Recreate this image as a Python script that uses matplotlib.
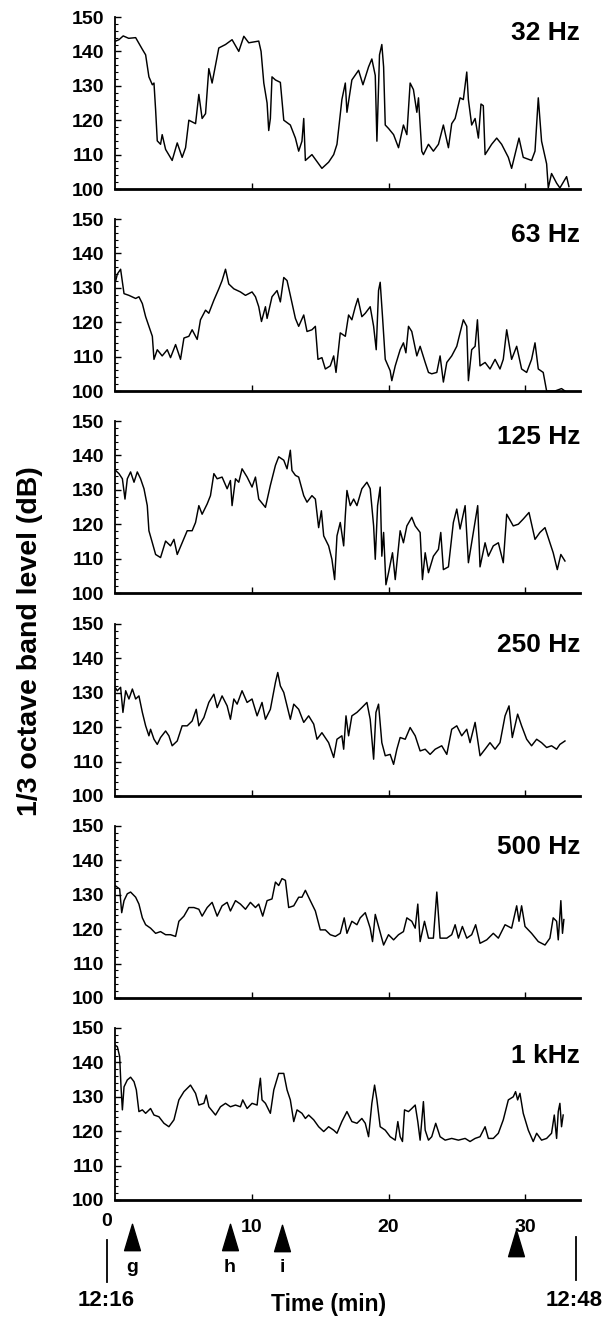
import matplotlib
matplotlib.use("Agg")
import matplotlib.pyplot as plt
import matplotlib.transforms as mtransforms
from matplotlib.path import Path
from matplotlib.ticker import MultipleLocator

plt.rcParams['font.family'] = ['Liberation Sans', 'DejaVu Sans']
plt.rcParams['font.weight'] = 'bold'

# --- data (time in min, level in dB) ---
bands = ['32 Hz', '63 Hz', '125 Hz', '250 Hz', '500 Hz', '1 kHz']

t_32 = [0.05, 0.29, 0.6, 1.0, 1.51, 2.00, 2.24, 2.48, 2.73, 2.85, 2.97, 3.09, 3.33, 3.45, 3.70,
        4.18, 4.55, 4.91, 5.16, 5.40, 5.89, 6.13, 6.37, 6.62, 6.86, 7.10, 7.59, 8.08, 8.56, 9.05,
        9.42, 9.78, 10.51, 10.68, 10.88, 11.12, 11.24, 11.36, 11.48, 11.73, 12.09, 12.34, 12.82,
        13.19, 13.43, 13.67, 13.80, 13.92, 14.40, 15.13, 15.62, 15.99, 16.23, 16.59, 16.84, 16.96,
        17.32, 17.81, 18.13, 18.54, 18.78, 19.03, 19.15, 19.34, 19.51, 19.64, 19.76, 20.00, 20.37,
        20.73, 21.09, 21.34, 21.58, 21.82, 22.07, 22.19, 22.43, 22.55, 22.92, 23.28, 23.65, 24.01,
        24.38, 24.62, 24.87, 25.23, 25.47, 25.72, 25.84, 26.08, 26.33, 26.57, 26.76, 26.93, 27.06,
        27.54, 27.91, 28.27, 28.76, 29.00, 29.54, 29.85, 30.46, 30.71, 30.95, 31.19, 31.56, 31.68,
        31.92, 32.29, 32.53, 33.02, 33.19]
v_32 = [143, 143.4, 144.5, 143.8, 144, 140.6, 139, 132.6, 130.3, 130.8, 123, 114, 113, 115.8, 111.5,
        108.3, 113.4, 109.2, 112, 120, 119, 127.5, 120.5, 121.9, 135, 130.8, 141, 142, 143.4, 140,
        144.4, 142.5, 143, 140, 130.8, 125, 117, 120.5, 132.6, 131.7, 131, 120, 118.6,
        114.8, 111, 113.9, 120.5, 108.3, 110, 106, 107.8, 110, 113, 126, 130.8, 122.3,
        131.7, 134.5, 130.3, 135.5, 137.8, 133, 113.9, 139, 142, 135.5, 118.6, 117.6, 115.8,
        112, 118.6, 115.8, 130.8, 128.9, 122.3, 126.5, 111, 110, 113, 111, 113, 118.6,
        112, 119, 120.5, 126.5, 126, 134, 126, 118.6, 120.5, 114.8, 124.7, 124.2, 110,
        113, 114.8, 113, 109.2, 106, 114.8, 109.2, 108.3, 111, 126.5, 113.9, 107.3, 100.3,
        104.5, 101.7, 100.3, 103.6, 100.7]

t_63 = [0.05, 0.17, 0.41, 0.66, 1.02, 1.51, 1.75, 2.00, 2.24, 2.48, 2.73, 2.85, 3.09, 3.45, 3.82, 4.06,
        4.43, 4.79, 5.04, 5.40, 5.64, 6.01, 6.25, 6.62, 6.86, 7.23, 7.59, 7.83, 8.08, 8.32, 8.69,
        9.17, 9.54, 10.02, 10.27, 10.51, 10.71, 11.00, 11.12, 11.48, 11.85, 12.09, 12.34, 12.58,
        12.82, 13.19, 13.43, 13.80, 14.04, 14.40, 14.65, 14.84, 15.13, 15.38, 15.74, 15.99, 16.16,
        16.47, 16.84, 17.08, 17.32, 17.57, 17.76, 18.05, 18.30, 18.66, 18.91, 19.10, 19.27, 19.39,
        19.56, 19.76, 20.12, 20.24, 20.49, 20.85, 21.09, 21.27, 21.46, 21.70, 22.07, 22.31, 22.68,
        22.92, 23.16, 23.53, 23.77, 24.01, 24.26, 24.62, 24.99, 25.23, 25.47, 25.72, 25.84, 26.08,
        26.33, 26.50, 26.69, 27.06, 27.42, 27.79, 28.15, 28.39, 28.64, 29.00, 29.37, 29.73, 30.10,
        30.46, 30.71, 30.95, 31.31, 31.56, 32.17, 32.65, 32.90]
v_63 = [132, 134, 135.4, 128.3, 127.8, 126.9, 127.4, 125.4, 121.6, 118.8, 115.9, 109.2, 112, 110.2, 112,
        109.7, 113.5, 109.2, 115.4, 115.9, 117.8, 115, 120.7, 123.5, 122.6, 126.4, 129.7, 132.1,
        135.4, 131.1, 129.7, 128.8, 127.8, 128.8, 127.4, 124.5, 120.2, 124.5, 121.1, 127.4, 129.2,
        125.9, 133, 132.1, 127.8, 121.1, 118.8, 122.1, 117.3, 117.8, 118.8, 109.2, 109.7, 106.4,
        107.3, 110.2, 105.4, 116.9, 115.9, 122.1, 120.7, 124.5, 126.9, 121.6, 122.6, 124.5, 118.8,
        112, 129.2, 131.6, 121.6, 109.2, 105.9, 103, 107.3, 112, 114, 111.1, 118.8, 117.3, 110.2,
        113, 108.3, 105.4, 105, 105.4, 110.2, 102.6, 108.3, 110.2, 113, 116.9, 120.7, 118.8, 103,
        112, 113, 120.7, 107.3, 108.3, 106.4, 109.2, 106.4, 109.2, 117.8, 109.2, 113, 106.4, 105.4,
        109.2, 114, 106.4, 105.4, 100, 100, 100.7, 100]

t_125 = [0.05, 0.29, 0.54, 0.73, 0.90, 1.14, 1.39, 1.63, 1.87, 2.12, 2.36, 2.48, 2.73, 2.97, 3.33,
         3.70, 4.06, 4.31, 4.55, 4.91, 5.28, 5.64, 5.89, 6.13, 6.37, 6.74, 6.98, 7.23, 7.47, 7.83,
         8.20, 8.44, 8.56, 8.81, 9.05, 9.29, 9.66, 10.02, 10.27, 10.51, 11.00, 11.36, 11.73, 11.97,
         12.34, 12.58, 12.82, 12.94, 13.19, 13.43, 13.80, 14.04, 14.40, 14.65, 14.89, 15.09, 15.26,
         15.62, 15.86, 16.06, 16.23, 16.47, 16.72, 16.84, 16.96, 17.20, 17.45, 17.69, 18.05, 18.42,
         18.66, 18.91, 19.03, 19.20, 19.39, 19.51, 19.64, 19.81, 20.00, 20.29, 20.49, 20.85, 21.09,
         21.34, 21.70, 21.95, 22.31, 22.48, 22.68, 22.92, 23.28, 23.65, 23.82, 24.01, 24.38, 24.74,
         24.99, 25.23, 25.60, 25.84, 26.20, 26.52, 26.69, 27.06, 27.30, 27.66, 28.03, 28.39, 28.64,
         29.12, 29.49, 29.85, 30.27, 30.71, 31.07, 31.44, 31.80, 32.04, 32.34, 32.60, 32.90]
v_125 = [135.6, 134.7, 133.2, 127.3, 133.2, 135.2, 132.2, 135.2, 133.2, 130.3, 125.4, 118.1, 114.6,
         111.2, 110.3, 115.1, 113.7, 115.6, 111.2, 114.6, 118.1, 118.1, 120.5, 125.4, 122.9, 125.9,
         128.3, 134.7, 133.2, 133.7, 130.3, 132.7, 125.4, 133.2, 132.2, 136.1, 133.7, 130.8, 133.7,
         127.3, 124.9, 131.3, 137.1, 139.6, 138.6, 136.1, 141.5, 135.6, 134.2, 133.7, 128.3, 126.4,
         128.3, 127.3, 119, 123.9, 116.6, 113.7, 109.8, 103.9, 116.6, 120.5, 113.7, 122.5, 129.8,
         125.4, 127.3, 125.4, 130.3, 132.2, 130.3, 119.5, 109.8, 125.4, 130.8, 110.7, 117.6, 102.4,
         105.9, 111.7, 103.9, 118.1, 114.6, 119.5, 122, 119.5, 117.6, 103.9, 111.7, 105.9, 110.7,
         112.7, 117.6, 106.8, 107.6, 120.5, 124.4, 118.6, 125.4, 108.8, 117.6, 125.4, 107.6, 114.6,
         110.7, 113.7, 114.6, 108.8, 122.9, 119.5, 120, 121.5, 123.4, 115.6, 117.6, 119, 114.6,
         111.7, 106.8, 111.2, 109.3]

t_250 = [0.0, 0.17, 0.41, 0.58, 0.78, 1.02, 1.27, 1.51, 1.75, 2.00, 2.24, 2.48, 2.60, 2.85, 3.09,
         3.33, 3.70, 3.94, 4.18, 4.55, 4.91, 5.28, 5.64, 5.94, 6.13, 6.50, 6.86, 7.23, 7.47, 7.83,
         8.20, 8.44, 8.69, 8.93, 9.29, 9.66, 10.02, 10.39, 10.75, 11.00, 11.36, 11.73, 11.90, 12.09,
         12.34, 12.58, 12.82, 13.07, 13.43, 13.80, 14.16, 14.53, 14.77, 15.13, 15.62, 15.99, 16.23,
         16.59, 16.72, 16.89, 17.08, 17.32, 17.69, 18.05, 18.42, 18.66, 18.91, 19.08, 19.27, 19.51,
         19.76, 20.12, 20.37, 20.61, 20.85, 21.22, 21.58, 21.95, 22.31, 22.68, 23.04, 23.41, 23.89,
         24.26, 24.62, 24.99, 25.35, 25.72, 25.96, 26.33, 26.69, 27.06, 27.42, 27.79, 28.15, 28.52,
         28.81, 29.05, 29.44, 29.73, 30.10, 30.46, 30.83, 31.19, 31.56, 31.92, 32.29, 32.53, 32.90]
v_250 = [131.6, 130.6, 131.6, 124.3, 130.6, 128.2, 131.1, 128.2, 129.1, 124.3, 120.4, 117.5, 119.4,
         116.5, 115, 117, 118.9, 117.5, 114.6, 116, 120.4, 120.4, 121.8, 125.2, 120.4, 122.8, 127.2,
         129.6, 125.7, 129.1, 126.2, 122.3, 128.2, 126.7, 130.6, 127.2, 128.2, 123.3, 127.2, 122.3,
         125.2, 133, 135.9, 132, 130.1, 126.2, 122.3, 126.7, 125.2, 121.4, 123.3, 120.9, 116.5,
         118.4, 115.5, 111.2, 116.5, 117.5, 113.6, 123.3, 117.5, 123.3, 124.3, 125.7, 127.2, 122.3,
         110.7, 124.3, 126.7, 115.5, 111.7, 112.1, 109.2, 113.6, 117, 116.5, 119.9, 117.5, 113.1,
         113.6, 112.1, 113.6, 114.6, 112.1, 119.4, 120.4, 117.5, 119.4, 115.5, 121.4, 111.7, 113.6,
         115.5, 113.6, 115.5, 123.3, 126.2, 117, 123.8, 120.4, 116.5, 114.6, 116.5, 115.5, 114.1,
         114.6, 113.6, 115, 116]

t_500 = [0.0, 0.17, 0.34, 0.49, 0.66, 0.90, 1.14, 1.51, 1.75, 2.00, 2.24, 2.60, 2.97, 3.33, 3.70,
         4.06, 4.43, 4.67, 5.04, 5.40, 5.77, 6.13, 6.37, 6.74, 7.10, 7.47, 7.83, 8.20, 8.44, 8.81,
         9.17, 9.54, 9.90, 10.27, 10.51, 10.80, 11.12, 11.48, 11.73, 11.97, 12.21, 12.46, 12.70,
         13.07, 13.43, 13.67, 13.92, 14.28, 14.65, 15.01, 15.38, 15.74, 16.11, 16.47, 16.76, 16.96,
         17.32, 17.69, 17.93, 18.30, 18.66, 18.83, 19.03, 19.27, 19.64, 20.00, 20.37, 20.73, 21.09,
         21.34, 21.70, 21.95, 22.14, 22.31, 22.63, 22.92, 23.28, 23.53, 23.77, 24.26, 24.62, 24.87,
         25.11, 25.40, 25.72, 26.08, 26.37, 26.69, 27.18, 27.66, 28.03, 28.52, 29.00, 29.37, 29.54,
         29.73, 29.98, 30.46, 30.95, 31.44, 31.80, 32.04, 32.29, 32.41, 32.60, 32.72, 32.82]
v_500 = [132.7, 132.2, 131.7, 124.8, 128.3, 130.3, 130.8, 129.3, 127.3, 123.3, 121.3, 120.3, 118.8,
         119.3, 118.4, 118.4, 117.9, 122.3, 123.8, 126.3, 126.3, 125.8, 123.8, 126.3, 127.8, 123.8,
         126.8, 127.8, 125.3, 128.3, 127.3, 125.8, 127.8, 126.3, 127.3, 123.8, 128.3, 128.8, 133.7,
         132.7, 134.7, 134.2, 126.3, 126.8, 129.3, 129.3, 131.3, 128.3, 125.3, 119.8, 119.8, 118.4,
         117.9, 118.8, 123.3, 118.8, 122.3, 121.3, 123.3, 124.8, 120.3, 116.4, 124.3, 120.8, 115.4,
         118.4, 116.9, 118.4, 119.3, 123.3, 122.3, 120.3, 127.3, 116.4, 122.3, 117.4, 117.4, 130.8,
         117.4, 117.4, 118.4, 121.3, 117.4, 120.8, 117.4, 118.4, 121.3, 115.9, 116.9, 118.8, 117.4,
         121.3, 120.3, 126.8, 122.3, 126.8, 120.8, 118.8, 116.4, 115.4, 117.4, 123.3, 122.3, 116.9,
         128.3, 118.8, 122.8]

t_1k = [0.0, 0.17, 0.34, 0.44, 0.54, 0.66, 0.90, 1.14, 1.39, 1.56, 1.75, 2.00, 2.24, 2.60, 2.85,
        3.21, 3.58, 3.94, 4.31, 4.67, 5.04, 5.52, 5.89, 6.13, 6.50, 6.67, 6.86, 7.35, 7.71, 8.08,
        8.44, 8.81, 9.17, 9.34, 9.66, 10.02, 10.39, 10.51, 10.63, 10.75, 11.00, 11.36, 11.61, 11.97,
        12.34, 12.58, 12.82, 13.07, 13.31, 13.67, 13.92, 14.16, 14.53, 14.89, 15.26, 15.62, 15.99,
        16.23, 16.59, 16.96, 17.32, 17.69, 18.05, 18.30, 18.54, 18.78, 18.98, 19.15, 19.39, 19.76,
        20.12, 20.49, 20.68, 20.85, 21.02, 21.17, 21.46, 21.70, 21.95, 22.14, 22.31, 22.55, 22.68,
        22.92, 23.16, 23.45, 23.77, 24.14, 24.62, 25.11, 25.60, 25.96, 26.33, 26.69, 27.06, 27.30,
        27.66, 28.03, 28.39, 28.76, 29.12, 29.29, 29.44, 29.61, 29.85, 30.22, 30.58, 30.83, 31.19,
        31.56, 31.92, 32.12, 32.29, 32.41, 32.53, 32.65, 32.77]
v_1k = [145, 144.6, 141.7, 132.9, 126.2, 132.9, 134.9, 135.7, 134.4, 132, 125.7, 126.2, 125.2, 126.6,
        124.7, 124.2, 122.3, 121.3, 123.3, 129.1, 131.5, 133.4, 131, 127.6, 128.1, 130.5, 127.1,
        124.7, 127.1, 128.1, 127.1, 127.6, 127.1, 129.1, 126.6, 128.1, 127.6, 132, 135.4, 129.1,
        128.1, 125.2, 132, 136.8, 136.8, 132, 129.1, 122.8, 126.2, 125.2, 123.7, 124.7, 123.3,
        121.3, 119.9, 121.3, 120.3, 119.4, 122.8, 125.7, 122.8, 122.3, 123.7, 122.3, 118.4, 128.1,
        133.4, 129.1, 121.3, 120.3, 118.4, 117.4, 122.8, 118.4, 117, 126.2, 125.7, 126.6, 127.6,
        122.8, 117.4, 128.6, 120.3, 117.4, 118.4, 122.3, 118.4, 117.4, 117.9, 117.4, 117.9, 117,
        117.9, 118.4, 121.3, 117.9, 117.9, 119.4, 123.3, 129.1, 130, 131.5, 129.1, 131, 125.2,
        120.3, 117, 119.4, 117.4, 117.9, 119.4, 124.7, 117.9, 125.7, 128.1, 121.3, 124.7]

times = [t_32, t_63, t_125, t_250, t_500, t_1k]
levels = [v_32, v_63, v_125, v_250, v_500, v_1k]

event_times = [1.25, 8.4, 12.2, 29.3]
event_labels = ['g', 'h', 'i', '']

# --- layout (pixels of a 613 x 1323 figure) ---
W, H = 613, 1323
fig = plt.figure(figsize=(W / 100, H / 100), dpi=100)

left, width, height = 115, 465, 172
tops = [17, 219, 421, 624, 826, 1028]
label_y = [0.907, 0.907, 0.907, 0.88, 0.88, 0.84]

axes = []
for k in range(6):
    ax = fig.add_axes([left / W, 1 - (tops[k] + height) / H, width / W, height / H])
    ax.plot(times[k], levels[k], color='black', lw=1.05)
    ax.set_xlim(0, 34)
    ax.set_ylim(100, 150)
    ax.spines['top'].set_visible(False)
    ax.spines['right'].set_visible(False)
    ax.spines['left'].set_linewidth(1.3)
    ax.spines['bottom'].set_linewidth(2.0)
    ax.set_yticks([100, 110, 120, 130, 140, 150])
    ax.yaxis.set_minor_locator(MultipleLocator(2))
    ax.tick_params(axis='y', which='major', direction='in', length=4, width=1,
                   labelsize=14, pad=8)
    ax.tick_params(axis='y', which='minor', direction='in', length=2.5, width=0.8)
    ax.set_xticks([10, 20, 30])
    ax.tick_params(axis='x', direction='in', length=4, width=1, labelsize=14, pad=14)
    if k < 5:
        ax.tick_params(axis='x', labelbottom=False)
    for lab in ax.get_xticklabels() + ax.get_yticklabels():
        lab.set_fontweight('bold')
    ax.text(1.0, label_y[k], bands[k], transform=ax.transAxes, ha='right', va='center',
            fontsize=19, fontweight='bold')
    axes.append(ax)

# --- event markers under the bottom panel ---
ax = axes[-1]
trans = mtransforms.blended_transform_factory(ax.transData, ax.transAxes)
tri = Path([(-0.3, -0.5), (0.3, -0.5), (0.0, 0.5), (-0.3, -0.5)],
           [Path.MOVETO, Path.LINETO, Path.LINETO, Path.CLOSEPOLY])
tri_y = [-0.215, -0.215, -0.22, -0.25]
for t, lab, y in zip(event_times, event_labels, tri_y):
    ax.plot([t], [y], marker=tri, markersize=19, color='black', transform=trans, clip_on=False)
    if lab:
        ax.text(t, -0.395, lab, transform=trans, ha='center', va='center', fontsize=14,
                fontweight='bold')

ax.plot([-0.6, -0.6], [-0.233, -0.477], color='black', lw=1.3, transform=trans, clip_on=False)
ax.plot([33.7, 33.7], [-0.215, -0.465], color='black', lw=1.3, transform=trans, clip_on=False)

fig.text(107 / W, 1 - 1221 / H, '0', ha='center', va='center', fontsize=14, fontweight='bold')
fig.text(106 / W, 1 - 1300 / H, '12:16', ha='center', va='center', fontsize=16, fontweight='bold')
fig.text(574 / W, 1 - 1300 / H, '12:48', ha='center', va='center', fontsize=16, fontweight='bold')
fig.text(329 / W, 1 - 1305 / H, 'Time (min)', ha='center', va='center', fontsize=16.5,
         fontweight='bold')
fig.text(30 / W, 1 - 641 / H, '1/3 octave band level (dB)', rotation=90, ha='center',
         va='center', fontsize=20.5, fontweight='bold')

fig.savefig('out.png', dpi=100)
